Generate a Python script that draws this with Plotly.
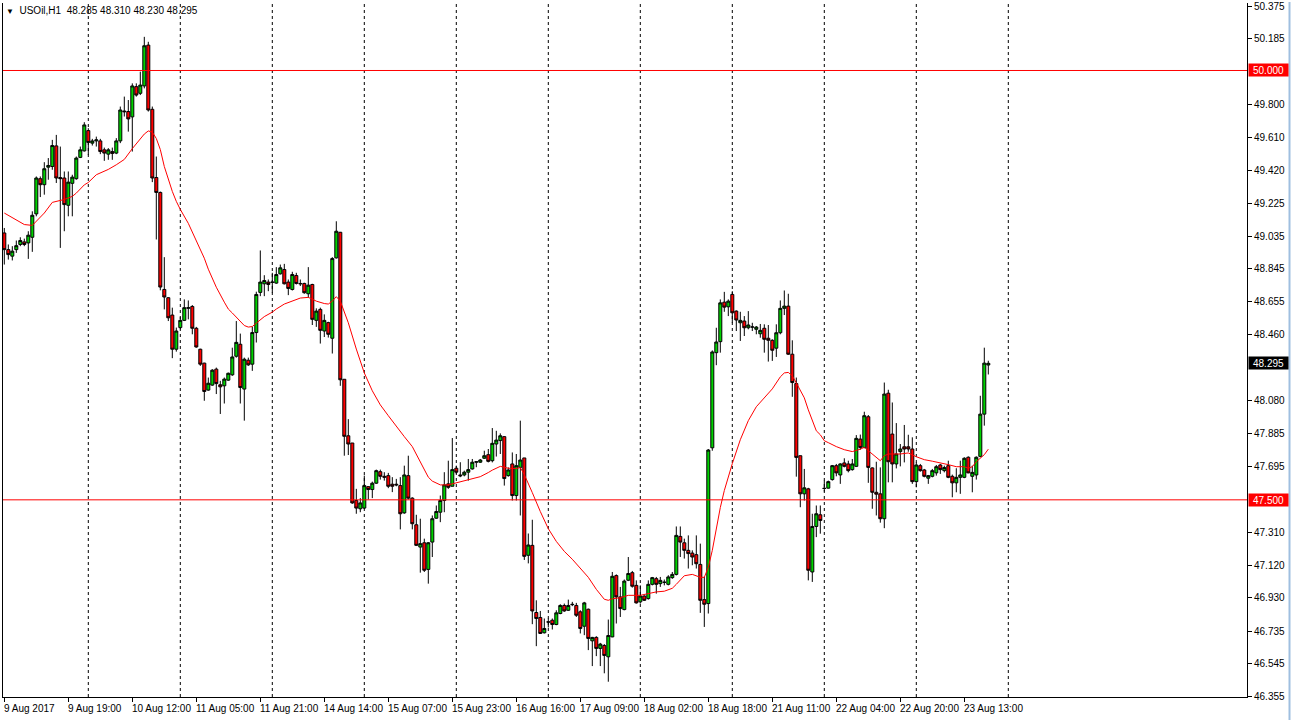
import plotly.graph_objects as go

# ---------------- data ----------------
symbol = "USOil,H1"

open_ = [
    49.054, 48.957, 48.919, 48.957, 48.987, 49.002, 48.996, 49.029, 49.165, 49.370,
    49.335, 49.437, 49.441, 49.561, 49.377, 49.374, 49.215, 49.343, 49.370, 49.494,
    49.532, 49.650, 49.577, 49.590, 49.590, 49.538, 49.513, 49.528, 49.519, 49.590,
    49.764, 49.761, 49.730, 49.906, 49.867, 49.910, 50.148, 49.774, 49.377, 49.290,
    48.725, 48.677, 48.576, 48.377, 48.503, 48.545, 48.615, 48.626, 48.499, 48.377,
    48.296, 48.139, 48.168, 48.261, 48.170, 48.164, 48.197, 48.228, 48.336, 48.406,
    48.145, 48.313, 48.290, 48.474, 48.708, 48.758, 48.768, 48.766, 48.762, 48.816,
    48.841, 48.768, 48.725, 48.806, 48.760, 48.760, 48.700, 48.754, 48.545, 48.609,
    48.483, 48.532, 48.441, 48.909, 49.058, 48.202, 47.873, 47.831, 47.496, 47.448,
    47.452, 47.577, 47.560, 47.597, 47.664, 47.637, 47.641, 47.591, 47.591, 47.583,
    47.424, 47.641, 47.510, 47.355, 47.225, 47.250, 47.095, 47.254, 47.393, 47.428,
    47.496, 47.593, 47.579, 47.684, 47.645, 47.645, 47.661, 47.680, 47.719, 47.719,
    47.742, 47.763, 47.728, 47.825, 47.845, 47.868, 47.641, 47.709, 47.525, 47.689,
    47.744, 47.177, 47.235, 46.844, 46.815, 46.726, 46.790, 46.799, 46.774, 46.838,
    46.885, 46.857, 46.892, 46.885, 46.848, 46.764, 46.863, 46.679, 46.699, 46.635,
    46.652, 46.586, 46.702, 47.059, 46.935, 46.861, 47.032, 47.076, 47.002, 46.906,
    46.940, 46.925, 47.008, 47.041, 47.012, 47.020, 47.008, 47.047, 47.066, 47.287,
    47.250, 47.206, 47.190, 47.181, 47.124, 46.919, 46.896, 47.803, 48.357, 48.421,
    48.651, 48.624, 48.696, 48.599, 48.531, 48.541, 48.502, 48.507, 48.493, 48.467,
    48.499, 48.441, 48.429, 48.383, 48.473, 48.615, 48.628, 48.348, 48.177, 47.757,
    47.535, 47.564, 47.080, 47.345, 47.413, 47.568, 47.568, 47.618, 47.699, 47.645,
    47.715, 47.709, 47.676, 47.695, 47.854, 47.805, 47.984, 47.686, 47.544, 47.535,
    47.390, 48.121, 47.883, 47.709, 47.781, 47.809, 47.809, 47.796, 47.606, 47.699,
    47.674, 47.626, 47.637, 47.657, 47.703, 47.670, 47.699, 47.637, 47.599, 47.631,
    47.631, 47.748, 47.637, 47.645, 47.753, 47.999, 48.285,
]

high = [
    49.083, 48.987, 48.977, 49.010, 49.029, 49.021, 49.064, 49.180, 49.383, 49.383,
    49.466, 49.490, 49.596, 49.625, 49.557, 49.412, 49.412, 49.393, 49.499, 49.557,
    49.699, 49.664, 49.602, 49.615, 49.602, 49.551, 49.548, 49.551, 49.606, 49.790,
    49.848, 49.828, 49.925, 49.925, 49.993, 50.196, 50.167, 49.790, 49.499, 49.295,
    48.913, 48.680, 48.619, 48.503, 48.565, 48.667, 48.661, 48.634, 48.507, 48.380,
    48.298, 48.212, 48.261, 48.270, 48.193, 48.212, 48.241, 48.386, 48.541, 48.468,
    48.328, 48.328, 48.507, 48.712, 48.952, 48.808, 48.783, 48.822, 48.855, 48.870,
    48.874, 48.783, 48.828, 48.822, 48.783, 48.764, 48.855, 48.758, 48.615, 48.619,
    48.580, 48.537, 48.913, 49.122, 49.060, 48.202, 47.970, 47.831, 47.564, 47.510,
    47.641, 47.578, 47.606, 47.676, 47.676, 47.661, 47.657, 47.632, 47.622, 47.632,
    47.699, 47.757, 47.515, 47.413, 47.390, 47.274, 47.254, 47.409, 47.467, 47.525,
    47.661, 47.728, 47.860, 47.699, 47.719, 47.670, 47.738, 47.738, 47.722, 47.738,
    47.786, 47.796, 47.918, 47.902, 47.887, 47.870, 47.689, 47.776, 47.767, 47.961,
    47.744, 47.304, 47.384, 46.915, 46.853, 46.809, 46.809, 46.809, 46.857, 46.892,
    46.896, 46.919, 46.906, 46.900, 46.857, 46.906, 46.867, 46.702, 46.706, 46.667,
    46.660, 46.803, 47.080, 47.066, 46.993, 47.036, 47.167, 47.086, 47.031, 47.002,
    46.944, 47.031, 47.051, 47.051, 47.051, 47.036, 47.061, 47.080, 47.345, 47.345,
    47.274, 47.293, 47.206, 47.293, 47.245, 47.051, 47.796, 48.370, 48.502, 48.667,
    48.711, 48.667, 48.715, 48.603, 48.595, 48.570, 48.599, 48.531, 48.512, 48.524,
    48.522, 48.518, 48.435, 48.522, 48.661, 48.719, 48.700, 48.429, 48.212, 47.757,
    47.680, 47.570, 47.419, 47.467, 47.467, 47.612, 47.612, 47.703, 47.709, 47.713,
    47.742, 47.728, 47.738, 47.877, 47.880, 48.013, 47.994, 47.689, 47.722, 47.689,
    48.183, 48.141, 48.067, 47.947, 47.825, 47.936, 47.879, 47.864, 47.718, 47.709,
    47.680, 47.645, 47.680, 47.703, 47.709, 47.699, 47.728, 47.647, 47.684, 47.728,
    47.748, 47.753, 47.699, 47.753, 48.106, 48.386, 48.310,
]

low = [
    48.870, 48.899, 48.894, 48.938, 48.977, 48.977, 48.903, 48.944, 49.151, 49.263,
    49.277, 49.364, 49.422, 49.345, 48.967, 49.064, 49.151, 49.151, 49.364, 49.490,
    49.528, 49.509, 49.563, 49.557, 49.513, 49.474, 49.480, 49.480, 49.513, 49.577,
    49.732, 49.644, 49.528, 49.848, 49.857, 49.896, 49.761, 49.350, 49.016, 48.720,
    48.609, 48.541, 48.325, 48.363, 48.493, 48.541, 48.551, 48.464, 48.386, 48.280,
    48.077, 48.135, 48.164, 48.116, 48.000, 48.061, 48.193, 48.222, 48.328, 48.061,
    47.961, 48.280, 48.251, 48.416, 48.686, 48.686, 48.715, 48.706, 48.758, 48.812,
    48.754, 48.692, 48.719, 48.754, 48.745, 48.700, 48.677, 48.518, 48.507, 48.410,
    48.448, 48.445, 48.352, 48.905, 48.164, 47.757, 47.761, 47.477, 47.419, 47.428,
    47.448, 47.502, 47.510, 47.593, 47.618, 47.612, 47.568, 47.545, 47.579, 47.328,
    47.419, 47.502, 47.328, 47.231, 47.076, 47.080, 47.012, 47.167, 47.390, 47.370,
    47.428, 47.564, 47.579, 47.651, 47.632, 47.637, 47.612, 47.676, 47.690, 47.715,
    47.738, 47.718, 47.718, 47.752, 47.767, 47.583, 47.635, 47.496, 47.496, 47.409,
    47.150, 47.130, 46.776, 46.648, 46.720, 46.722, 46.757, 46.745, 46.770, 46.834,
    46.848, 46.853, 46.881, 46.818, 46.722, 46.712, 46.625, 46.532, 46.590, 46.532,
    46.490, 46.441, 46.700, 46.780, 46.818, 46.857, 47.027, 46.989, 46.896, 46.896,
    46.911, 46.919, 47.002, 46.954, 46.993, 47.002, 47.002, 47.040, 47.060, 47.167,
    47.158, 47.100, 47.119, 47.100, 46.842, 46.760, 46.838, 47.786, 48.284, 48.357,
    48.595, 48.570, 48.531, 48.483, 48.425, 48.454, 48.493, 48.483, 48.464, 48.444,
    48.357, 48.305, 48.309, 48.332, 48.464, 48.576, 48.344, 48.100, 47.635, 47.457,
    47.496, 47.031, 47.022, 47.283, 47.303, 47.548, 47.566, 47.612, 47.637, 47.593,
    47.689, 47.660, 47.670, 47.691, 47.792, 47.800, 47.599, 47.448, 47.409, 47.367,
    47.335, 47.602, 47.602, 47.683, 47.695, 47.718, 47.780, 47.593, 47.573, 47.664,
    47.631, 47.593, 47.631, 47.641, 47.651, 47.660, 47.626, 47.515, 47.544, 47.535,
    47.626, 47.655, 47.544, 47.618, 47.748, 47.932, 48.230,
]

close = [
    48.957, 48.928, 48.948, 48.980, 49.010, 48.987, 49.041, 49.157, 49.374, 49.335,
    49.428, 49.447, 49.563, 49.374, 49.370, 49.219, 49.350, 49.379, 49.490, 49.538,
    49.683, 49.581, 49.590, 49.596, 49.528, 49.519, 49.538, 49.517, 49.590, 49.770,
    49.760, 49.718, 49.910, 49.857, 49.915, 50.144, 49.770, 49.374, 49.290, 48.739,
    48.681, 48.560, 48.377, 48.483, 48.545, 48.619, 48.619, 48.499, 48.390, 48.290,
    48.131, 48.179, 48.255, 48.177, 48.158, 48.203, 48.237, 48.332, 48.417, 48.154,
    48.319, 48.286, 48.474, 48.696, 48.768, 48.777, 48.754, 48.768, 48.812, 48.851,
    48.758, 48.731, 48.812, 48.760, 48.758, 48.706, 48.750, 48.551, 48.599, 48.487,
    48.545, 48.464, 48.905, 49.064, 48.199, 47.870, 47.825, 47.482, 47.452, 47.482,
    47.583, 47.560, 47.597, 47.670, 47.637, 47.632, 47.579, 47.579, 47.587, 47.419,
    47.645, 47.510, 47.361, 47.235, 47.245, 47.090, 47.250, 47.390, 47.432, 47.496,
    47.587, 47.573, 47.676, 47.661, 47.640, 47.661, 47.676, 47.719, 47.722, 47.732,
    47.757, 47.724, 47.829, 47.848, 47.873, 47.624, 47.674, 47.525, 47.699, 47.732,
    47.171, 47.237, 46.853, 46.809, 46.722, 46.751, 46.788, 46.774, 46.842, 46.885,
    46.853, 46.885, 46.890, 46.828, 46.751, 46.900, 46.693, 46.699, 46.635, 46.660,
    46.594, 46.710, 47.055, 46.935, 46.867, 47.027, 47.071, 46.997, 46.900, 46.940,
    46.915, 47.008, 47.047, 47.008, 47.031, 47.020, 47.051, 47.066, 47.293, 47.254,
    47.206, 47.187, 47.167, 47.128, 46.915, 46.892, 47.790, 48.361, 48.419, 48.647,
    48.622, 48.657, 48.589, 48.547, 48.545, 48.502, 48.518, 48.506, 48.506, 48.487,
    48.435, 48.429, 48.371, 48.473, 48.615, 48.628, 48.348, 48.183, 47.747, 47.535,
    47.570, 47.090, 47.345, 47.419, 47.380, 47.566, 47.606, 47.699, 47.657, 47.709,
    47.695, 47.670, 47.709, 47.858, 47.805, 47.990, 47.689, 47.544, 47.533, 47.390,
    48.116, 47.722, 47.709, 47.767, 47.796, 47.796, 47.796, 47.606, 47.703, 47.670,
    47.637, 47.641, 47.670, 47.693, 47.676, 47.688, 47.631, 47.599, 47.631, 47.645,
    47.742, 47.657, 47.660, 47.748, 47.999, 48.296, 48.295,
]

# moving average line (red) at these bar numbers
ma_bar = [
    0, 5, 7, 8, 10, 12, 15, 17, 18, 20, 21, 23, 25, 26, 28, 30, 32, 33, 35, 36,
    37, 38, 39, 40, 41, 42, 43, 44, 46, 48, 50, 51, 53, 55, 56, 57, 59, 60, 61, 62,
    63, 65, 67, 68, 70, 72, 74, 76, 78, 80, 81, 82, 83, 84, 85, 86, 88, 90, 92, 94,
    96, 98, 100, 102, 104, 106, 107, 109, 111, 113, 115, 117, 119, 121, 122, 124, 126, 128, 129, 130,
    131, 132, 134, 136, 138, 140, 142, 144, 146, 148, 150, 151, 152, 154, 156, 159, 161, 163, 165, 167,
    168, 170, 172, 174, 175, 176, 177, 178, 179, 180, 181, 182, 184, 186, 188, 190, 192, 194, 195, 196,
    197, 198, 199, 200, 201, 202, 203, 204, 205, 206, 208, 210, 212, 214, 215, 216, 218, 219, 220, 221,
    224, 226, 228, 230, 232, 234, 236, 238, 240, 241, 242, 243, 244, 245, 246,
]
ma_val = [
    49.170, 49.103, 49.098, 49.122, 49.170, 49.232, 49.249, 49.267, 49.286, 49.334,
    49.348, 49.393, 49.412, 49.424, 49.451, 49.482, 49.545, 49.575, 49.630, 49.648,
    49.641, 49.604, 49.540, 49.441, 49.366, 49.296, 49.238, 49.191, 49.110, 49.006,
    48.907, 48.843, 48.738, 48.651, 48.611, 48.588, 48.535, 48.515, 48.506, 48.509,
    48.529, 48.567, 48.593, 48.611, 48.640, 48.657, 48.675, 48.679, 48.657, 48.643,
    48.640, 48.657, 48.683, 48.657, 48.593, 48.531, 48.378, 48.239, 48.135, 48.053,
    47.990, 47.926, 47.868, 47.810, 47.717, 47.632, 47.609, 47.587, 47.587, 47.600,
    47.613, 47.624, 47.635, 47.659, 47.673, 47.695, 47.684, 47.682, 47.688, 47.647,
    47.589, 47.542, 47.432, 47.332, 47.258, 47.200, 47.154, 47.104, 47.049, 46.979,
    46.921, 46.915, 46.924, 46.930, 46.944, 46.944, 46.956, 46.964, 46.968, 46.985,
    47.008, 47.058, 47.066, 47.049, 47.049, 47.107, 47.206, 47.339, 47.455, 47.554,
    47.635, 47.711, 47.850, 47.961, 48.042, 48.094, 48.146, 48.216, 48.239, 48.242,
    48.222, 48.181, 48.135, 48.094, 48.024, 47.961, 47.902, 47.879, 47.844, 47.833,
    47.810, 47.792, 47.781, 47.795, 47.806, 47.786, 47.746, 47.728, 47.757, 47.767,
    47.767, 47.773, 47.751, 47.734, 47.725, 47.717, 47.705, 47.693, 47.693, 47.684,
    47.693, 47.722, 47.740, 47.763, 47.795,
]

# time-axis labels (bar number where each label starts) and day separators
label_bars = [0, 16, 32, 48, 64, 80, 96, 112, 128, 144, 160, 176, 192, 208, 224, 240]
label_text = ["9 Aug 2017", "9 Aug 19:00", "10 Aug 12:00", "11 Aug 05:00", "11 Aug 21:00",
              "14 Aug 14:00", "15 Aug 07:00", "15 Aug 23:00", "16 Aug 16:00", "17 Aug 09:00",
              "18 Aug 02:00", "18 Aug 18:00", "21 Aug 11:00", "22 Aug 04:00", "22 Aug 20:00",
              "23 Aug 13:00"]
separator_bars = [21, 44, 67, 90, 113, 136, 159, 182, 205, 228, 251]

levels = [50.000, 47.500]
ytick_vals = [50.375, 50.185, 49.800, 49.610, 49.420, 49.225, 49.035, 48.845, 48.655,
              48.460, 48.080, 47.885, 47.695, 47.310, 47.120, 46.930, 46.735, 46.545, 46.355]

# ---------------- figure ----------------
W, H = 1291, 720
ML, MR, MT, MB = 3, 44, 1, 23
plot_w = W - ML - MR
plot_h = H - MT - MB
px_per_bar = 4.0
x0 = -0.325
x1 = x0 + plot_w / px_per_bar
y_lo, y_hi = 46.352, 50.393

FONT = "Liberation Sans, Arial, sans-serif"
bars = list(range(len(close)))

fig = go.Figure()
fig.add_trace(go.Candlestick(
    x=bars, open=open_, high=high, low=low, close=close,
    increasing=dict(line=dict(color="#000000", width=1), fillcolor="#00d200"),
    decreasing=dict(line=dict(color="#000000", width=1), fillcolor="#ff0000"),
    whiskerwidth=0, showlegend=False, hoverinfo="skip",
))
fig.add_trace(go.Scatter(
    x=ma_bar, y=ma_val, mode="lines",
    line=dict(color="#ff0000", width=1), showlegend=False, hoverinfo="skip",
))

shapes = []
for b in separator_bars:
    shapes.append(dict(type="line", xref="x", yref="paper", x0=b, x1=b, y0=0, y1=1,
                       line=dict(color="#000000", width=1, dash="3px,3px"), layer="below"))
for lv in levels:
    shapes.append(dict(type="line", xref="paper", yref="y", x0=0, x1=1, y0=lv, y1=lv,
                       line=dict(color="#ff0000", width=1), layer="above"))
# window edge on the right
edge_x = (W - 1.5 - ML) / plot_w
shapes.append(dict(type="line", xref="paper", yref="paper", x0=edge_x, x1=edge_x,
                   y0=-MB / plot_h, y1=1 + MT / plot_h,
                   line=dict(color="#9fbfe0", width=2)))

annotations = []
for b, t in zip(label_bars, label_text):
    annotations.append(dict(x=b, y=0, xref="x", yref="paper", text=t, showarrow=False,
                            xanchor="left", yanchor="top", xshift=-2, yshift=-4,
                            font=dict(family=FONT, size=10, color="#000000")))
for lv in levels:
    annotations.append(dict(x=1, y=lv, xref="paper", yref="y", text=f"{lv:.3f}",
                            showarrow=False, xanchor="left", yanchor="middle", xshift=1,
                            bgcolor="#ff0000", borderpad=0, width=39, height=12,
                            font=dict(family=FONT, size=10, color="#ffffff")))
annotations.append(dict(x=1, y=close[-1], xref="paper", yref="y", text=f"{close[-1]:.3f}",
                        showarrow=False, xanchor="left", yanchor="middle", xshift=1,
                        bgcolor="#000000", borderpad=0, width=39, height=12,
                        font=dict(family=FONT, size=10, color="#ffffff")))
header = ("<span style='font-size:8px'>\u25bc</span>\u00a0\u00a0" + symbol + "\u00a0\u00a0"
          + " ".join(f"{v:.3f}" for v in (open_[-1], high[-1], low[-1], close[-1])))
annotations.append(dict(x=0, y=1, xref="paper", yref="paper", text=header, showarrow=False,
                        xanchor="left", yanchor="top", xshift=1, yshift=0,
                        font=dict(family=FONT, size=10, color="#000000")))

fig.update_layout(
    width=W, height=H,
    margin=dict(l=ML, r=MR, t=MT, b=MB, pad=0),
    paper_bgcolor="#ffffff", plot_bgcolor="#ffffff",
    showlegend=False, boxgap=0.25, boxgroupgap=0,
    shapes=shapes, annotations=annotations,
    xaxis=dict(range=[x0, x1], showgrid=False, zeroline=False,
               showline=True, linecolor="#000000", linewidth=1,
               ticks="outside", tickvals=label_bars, ticklen=4, tickcolor="#000000",
               showticklabels=False, rangeslider=dict(visible=False), fixedrange=True),
    yaxis=dict(range=[y_lo, y_hi], side="right", showgrid=False, zeroline=False,
               showline=True, mirror=True, linecolor="#000000", linewidth=1,
               ticks="outside", ticklen=4, tickcolor="#000000",
               tickvals=ytick_vals, ticktext=[f"{v:.3f}" for v in ytick_vals],
               ticklabeloverflow="allow",
               tickfont=dict(family=FONT, size=10, color="#000000"), fixedrange=True),
)

fig.write_html(
    "out.html",
    config={"displayModeBar": False, "staticPlot": True},
    post_script="document.body.style.margin='0';document.body.style.padding='0';",
)
